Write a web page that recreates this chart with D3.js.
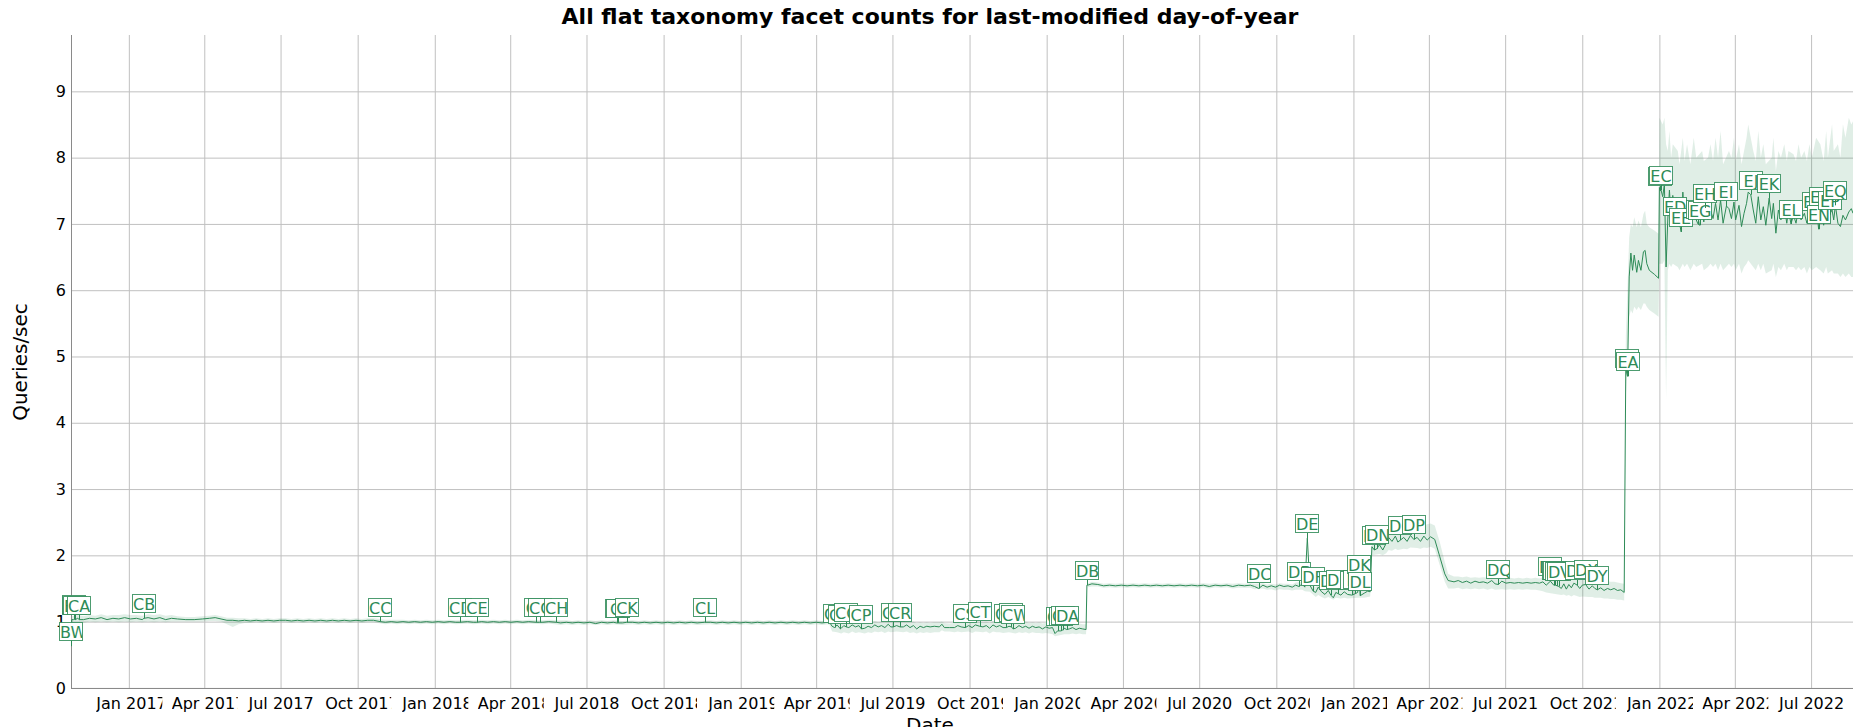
<!DOCTYPE html>
<html><head><meta charset="utf-8">
<script src="https://cdn.jsdelivr.net/npm/d3@7"></script>
<style>
html,body{margin:0;padding:0;background:#fff;overflow:hidden;}
svg{display:block;font-family:"DejaVu Sans",Verdana,sans-serif;}
</style></head><body>
<svg id="chart" width="1861" height="727"></svg>
<script>
// ---------------- DATA ----------------
const chartTitle = "All flat taxonomy facet counts for last-modified day-of-year";
const yTitle = "Queries/sec";
const xTitle = "Date";
const xDomain = ["2016-10-24", "2022-08-20"];
const yTicks = [0,1,2,3,4,5,6,7,8,9];
const xTickDates = ["2017-01-01","2017-04-01","2017-07-01","2017-10-01","2018-01-01","2018-04-01","2018-07-01","2018-10-01",
  "2019-01-01","2019-04-01","2019-07-01","2019-10-01","2020-01-01","2020-04-01","2020-07-01","2020-10-01",
  "2021-01-01","2021-04-01","2021-07-01","2021-10-01","2022-01-01","2022-04-01","2022-07-01"];

// rows: [date, queries/sec, band low, band high]
const launch2016 = [
["2016-10-25",1.03,0.98,1.08],["2016-11-01",1.05,0.99,1.10],["2016-11-08",1.03,0.98,1.08],["2016-11-15",1.05,1.00,1.10],
["2016-11-22",1.04,0.99,1.09],["2016-11-29",1.06,1.00,1.11],["2016-12-06",1.03,0.99,1.09],["2016-12-13",1.05,1.00,1.10],
["2016-12-20",1.04,0.99,1.10],["2016-12-27",1.06,1.00,1.11],["2017-01-03",1.04,0.99,1.10],["2017-01-10",1.05,1.00,1.10],
["2017-01-17",1.03,0.99,1.09],["2017-01-24",1.06,1.00,1.11],["2017-01-31",1.04,0.99,1.10],["2017-02-07",1.06,1.00,1.11],
["2017-02-14",1.03,0.99,1.09],["2017-02-21",1.05,1.00,1.10],["2017-02-28",1.04,1.00,1.08],["2017-03-10",1.03,1.00,1.07],
["2017-03-20",1.03,1.00,1.07],["2017-03-30",1.04,1.00,1.08],["2017-04-07",1.05,1.01,1.09],["2017-04-14",1.06,1.01,1.10],
["2017-04-21",1.04,1.00,1.08],["2017-04-28",1.02,0.96,1.06],["2017-05-05",1.02,0.92,1.06],["2017-05-12",1.01,0.96,1.05]
];
const flat2017to2019 = [
["2017-05-19",1.02,0.98,1.05],["2017-05-26",1.01,0.98,1.04],["2017-06-02",1.02,0.99,1.05],["2017-06-09",1.01,0.98,1.04],
["2017-06-16",1.02,0.99,1.05],["2017-06-23",1.01,0.98,1.04],["2017-06-30",1.02,0.99,1.05],["2017-07-07",1.02,0.99,1.05],
["2017-07-14",1.01,0.98,1.04],["2017-07-21",1.02,0.99,1.05],["2017-07-28",1.01,0.98,1.04],["2017-08-04",1.02,0.99,1.05],
["2017-08-11",1.01,0.98,1.04],["2017-08-18",1.02,0.99,1.05],["2017-08-25",1.01,0.98,1.04],["2017-09-01",1.02,0.99,1.05],
["2017-09-08",1.01,0.98,1.04],["2017-09-15",1.02,0.99,1.05],["2017-09-22",1.01,0.98,1.04],["2017-09-29",1.02,0.99,1.05],
["2017-10-06",1.01,0.98,1.04],["2017-10-13",1.02,0.99,1.05],["2017-10-20",1.02,0.99,1.05],["2017-11-03",0.99,0.96,1.03],
["2017-11-10",1.00,0.97,1.03],["2017-11-17",0.99,0.96,1.03],["2017-11-24",1.00,0.97,1.03],["2017-12-01",0.99,0.96,1.02],
["2017-12-08",1.00,0.97,1.03],["2017-12-15",0.99,0.96,1.02],["2017-12-22",1.00,0.97,1.03],["2017-12-29",0.99,0.96,1.02],
["2018-01-05",1.00,0.97,1.03],["2018-01-12",0.99,0.96,1.02],["2018-01-19",1.00,0.97,1.03],["2018-01-26",0.99,0.96,1.02],
["2018-02-09",1.00,0.97,1.03],["2018-02-16",0.99,0.96,1.02],["2018-02-26",1.00,0.97,1.03],["2018-03-05",0.99,0.96,1.02],
["2018-03-12",1.00,0.97,1.03],["2018-03-19",0.99,0.96,1.02],["2018-03-26",1.00,0.97,1.03],["2018-04-02",0.99,0.96,1.02],
["2018-04-09",1.00,0.97,1.03],["2018-04-16",0.99,0.96,1.02],["2018-04-23",1.00,0.97,1.03],["2018-05-10",0.99,0.96,1.02],
["2018-05-17",1.00,0.97,1.03],["2018-05-31",0.98,0.95,1.02],["2018-06-07",0.99,0.96,1.02],["2018-06-14",0.98,0.95,1.01],
["2018-06-21",0.99,0.96,1.02],["2018-06-28",0.98,0.95,1.01],["2018-07-05",0.99,0.96,1.02],["2018-07-12",0.97,0.95,1.01],
["2018-07-19",0.99,0.96,1.02],["2018-07-26",0.98,0.95,1.01],["2018-08-02",0.99,0.96,1.02],["2018-08-13",0.98,0.95,1.01],
["2018-08-25",0.99,0.96,1.02],["2018-09-01",0.98,0.95,1.01],["2018-09-08",0.99,0.96,1.02],["2018-09-15",0.98,0.95,1.01],
["2018-09-22",0.99,0.96,1.02],["2018-09-29",0.98,0.95,1.01],["2018-10-06",0.99,0.96,1.02],["2018-10-13",0.98,0.95,1.01],
["2018-10-20",0.99,0.96,1.02],["2018-10-27",0.98,0.95,1.01],["2018-11-03",0.99,0.96,1.02],["2018-11-10",0.98,0.95,1.01],
["2018-11-26",0.99,0.96,1.02],["2018-12-03",0.98,0.95,1.01],["2018-12-10",0.99,0.96,1.02],["2018-12-17",0.98,0.95,1.01],
["2018-12-24",0.99,0.96,1.02],["2018-12-31",0.98,0.95,1.01],["2019-01-07",0.99,0.96,1.02],["2019-01-14",0.98,0.95,1.01],
["2019-01-21",0.99,0.96,1.02],["2019-01-28",0.98,0.95,1.01],["2019-02-04",0.99,0.96,1.02],["2019-02-11",0.98,0.95,1.01],
["2019-02-18",0.99,0.96,1.02],["2019-02-25",0.98,0.95,1.01],["2019-03-04",0.99,0.96,1.02],["2019-03-11",0.98,0.95,1.01],
["2019-03-18",0.99,0.96,1.02],["2019-03-25",0.98,0.95,1.01],["2019-04-01",0.99,0.96,1.02],["2019-04-08",0.98,0.95,1.01],
["2019-04-15",0.99,0.96,1.02]
];
const dip2019 = [
["2019-04-17",0.99,0.95,1.02],["2019-04-20",0.93,0.85,0.99],["2019-04-26",0.95,0.84,1.00],["2019-05-01",0.90,0.82,0.99],
["2019-05-04",0.94,0.84,1.00],["2019-05-10",0.91,0.82,0.98],["2019-05-14",0.95,0.85,1.01],["2019-05-18",0.92,0.83,0.99],
["2019-05-22",0.94,0.84,1.00],["2019-05-29",0.90,0.82,0.98],["2019-06-02",0.93,0.84,1.00],["2019-06-06",0.91,0.83,0.99],
["2019-06-10",0.95,0.85,1.01],["2019-06-14",0.92,0.84,0.99],["2019-06-18",0.94,0.85,1.00],["2019-06-22",0.91,0.83,0.99],
["2019-06-26",0.96,0.85,1.01],["2019-06-29",0.92,0.84,0.99],["2019-07-06",0.94,0.85,1.00],["2019-07-14",0.92,0.84,0.99],
["2019-07-18",0.95,0.85,1.01],["2019-07-22",0.91,0.83,0.99],["2019-07-26",0.94,0.84,1.00],["2019-07-30",0.89,0.82,0.98],
["2019-08-03",0.93,0.84,0.99],["2019-08-07",0.91,0.83,0.98],["2019-08-11",0.93,0.84,0.99],["2019-08-15",0.92,0.83,0.98],
["2019-08-20",0.93,0.84,0.99],["2019-08-26",0.92,0.84,0.99],["2019-08-29",0.96,0.87,1.00],["2019-09-01",0.91,0.85,0.98],
["2019-09-07",0.91,0.85,0.97],["2019-09-13",0.91,0.84,0.98],["2019-09-17",0.94,0.85,1.00],["2019-09-21",0.92,0.84,0.99],
["2019-09-30",0.94,0.85,1.00],["2019-10-04",0.91,0.83,0.99],["2019-10-08",0.95,0.85,1.01],["2019-10-17",0.92,0.84,0.99],
["2019-10-21",0.94,0.85,1.00],["2019-10-25",0.90,0.82,0.98],["2019-10-29",0.95,0.85,1.01],["2019-11-02",0.92,0.84,0.99],
["2019-11-06",0.94,0.84,1.00],["2019-11-10",0.91,0.83,0.99],["2019-11-17",0.93,0.84,1.00],["2019-11-25",0.90,0.82,0.98],
["2019-11-29",0.94,0.84,1.00],["2019-12-03",0.91,0.83,0.99],["2019-12-07",0.93,0.84,1.00],["2019-12-11",0.90,0.82,0.98],
["2019-12-15",0.93,0.84,0.99],["2019-12-19",0.91,0.83,0.98],["2019-12-23",0.92,0.83,0.99],["2019-12-27",0.89,0.82,0.97],
["2019-12-31",0.92,0.83,0.98],["2020-01-04",0.90,0.82,0.97],["2020-01-08",0.91,0.81,0.98],["2020-01-11",0.82,0.78,0.95],
["2020-01-22",0.90,0.81,0.97],["2020-01-28",0.89,0.81,0.96],["2020-02-01",0.91,0.82,0.97],["2020-02-05",0.88,0.81,0.96],
["2020-02-09",0.90,0.82,0.97],["2020-02-13",0.89,0.81,0.96],["2020-02-17",0.88,0.81,0.96]
];
const plateau2020 = [
["2020-02-19",1.55,1.52,1.58],["2020-02-24",1.57,1.53,1.60],["2020-03-02",1.56,1.53,1.59],["2020-03-09",1.54,1.51,1.57],
["2020-03-16",1.55,1.52,1.58],["2020-03-23",1.54,1.51,1.57],["2020-03-30",1.55,1.52,1.58],["2020-04-06",1.54,1.51,1.57],
["2020-04-13",1.55,1.52,1.58],["2020-04-20",1.54,1.51,1.57],["2020-04-27",1.55,1.52,1.58],["2020-05-04",1.54,1.51,1.57],
["2020-05-11",1.55,1.52,1.58],["2020-05-18",1.54,1.51,1.57],["2020-05-25",1.55,1.52,1.58],["2020-06-01",1.54,1.51,1.57],
["2020-06-08",1.55,1.52,1.58],["2020-06-15",1.54,1.51,1.57],["2020-06-22",1.55,1.52,1.58],["2020-06-29",1.54,1.51,1.57],
["2020-07-06",1.55,1.52,1.58],["2020-07-13",1.53,1.50,1.57],["2020-07-20",1.55,1.52,1.58],["2020-07-27",1.54,1.51,1.57],
["2020-08-03",1.55,1.52,1.58],["2020-08-10",1.53,1.50,1.57],["2020-08-17",1.55,1.51,1.58],["2020-08-24",1.54,1.51,1.57],
["2020-08-31",1.55,1.51,1.58],["2020-09-05",1.53,1.49,1.57],["2020-09-15",1.55,1.50,1.58],["2020-09-20",1.52,1.48,1.56],
["2020-09-25",1.54,1.49,1.57],["2020-09-30",1.52,1.47,1.56],["2020-10-05",1.55,1.49,1.58],["2020-10-10",1.53,1.48,1.57],
["2020-10-15",1.54,1.48,1.57],["2020-10-20",1.52,1.47,1.56],["2020-10-24",1.55,1.48,1.59],["2020-11-01",1.57,1.48,1.60],
["2020-11-04",1.52,1.46,1.58],["2020-11-10",1.55,1.45,1.59],["2020-11-17",1.44,1.37,1.52],["2020-11-20",1.52,1.40,1.56],
["2020-11-24",1.45,1.37,1.53],["2020-11-28",1.41,1.35,1.50],["2020-12-02",1.47,1.37,1.52],["2020-12-08",1.36,1.33,1.49],
["2020-12-11",1.44,1.36,1.50],["2020-12-17",1.40,1.35,1.49],["2020-12-21",1.45,1.36,1.51],["2020-12-25",1.41,1.35,1.49],
["2021-01-06",1.44,1.36,1.50],["2021-01-14",1.43,1.36,1.50],["2021-01-18",1.46,1.37,1.51],["2021-01-21",1.45,1.38,1.52]
];
const rise2021 = [
["2021-01-23",2.13,2.00,2.20],["2021-02-01",2.16,2.02,2.24],["2021-02-05",2.08,2.00,2.22],["2021-02-09",2.18,2.03,2.26],
["2021-02-12",2.27,2.08,2.35],["2021-02-16",2.21,2.07,2.34],["2021-02-20",2.29,2.10,2.38],["2021-02-23",2.20,2.08,2.36],
["2021-03-02",2.27,2.10,2.38],["2021-03-06",2.21,2.09,2.37],["2021-03-10",2.30,2.12,2.40],["2021-03-18",2.27,2.11,2.42],
["2021-03-22",2.21,2.10,2.43],["2021-03-26",2.29,2.12,2.45],["2021-03-30",2.23,2.11,2.47],["2021-04-03",2.28,2.13,2.48],
["2021-04-08",2.24,2.10,2.45],["2021-04-14",1.98,1.85,2.20],["2021-04-20",1.72,1.60,1.90],["2021-04-24",1.62,1.50,1.72],
["2021-05-01",1.60,1.50,1.68],["2021-05-06",1.62,1.51,1.68],["2021-05-11",1.59,1.49,1.67],["2021-05-16",1.61,1.50,1.68],
["2021-05-21",1.58,1.49,1.66],["2021-05-26",1.61,1.50,1.67],["2021-05-31",1.59,1.49,1.66],["2021-06-05",1.60,1.50,1.67],
["2021-06-10",1.58,1.48,1.66],["2021-06-15",1.62,1.50,1.68],["2021-06-19",1.57,1.48,1.65],["2021-06-27",1.61,1.49,1.67],
["2021-07-02",1.58,1.48,1.66],["2021-07-07",1.59,1.49,1.66],["2021-07-12",1.58,1.48,1.65],["2021-07-17",1.59,1.49,1.66],
["2021-07-22",1.58,1.48,1.65],["2021-07-27",1.59,1.49,1.66],["2021-08-01",1.58,1.48,1.65],["2021-08-06",1.59,1.48,1.66],
["2021-08-11",1.58,1.47,1.65],["2021-08-15",1.60,1.46,1.67],["2021-08-19",1.55,1.44,1.66],["2021-09-06",1.50,1.40,1.64],
["2021-09-09",1.57,1.41,1.66],["2021-09-12",1.49,1.39,1.63],["2021-09-15",1.56,1.40,1.65],["2021-09-18",1.51,1.38,1.64],
["2021-09-21",1.58,1.40,1.66],["2021-09-28",1.50,1.37,1.64],["2021-10-01",1.55,1.38,1.65],["2021-10-09",1.49,1.37,1.63],
["2021-10-13",1.54,1.37,1.64],["2021-10-16",1.50,1.36,1.62],["2021-10-23",1.51,1.36,1.62],["2021-10-27",1.47,1.35,1.60],
["2021-10-31",1.50,1.35,1.61],["2021-11-04",1.48,1.34,1.60],["2021-11-08",1.50,1.34,1.60],["2021-11-12",1.47,1.33,1.59],
["2021-11-16",1.48,1.33,1.58],["2021-11-20",1.44,1.32,1.57]
];
const jump2022 = [
["2021-11-22",4.95,4.40,5.30],["2021-11-26",6.20,5.60,6.80],["2021-11-28",6.56,5.70,7.00],["2021-11-30",6.30,5.65,6.95],
["2021-12-02",6.53,5.75,7.10],["2021-12-05",6.27,5.70,6.95],["2021-12-07",6.45,5.75,7.05],["2021-12-10",6.30,5.70,6.95],
["2021-12-13",6.58,5.80,7.15],["2021-12-15",6.60,5.80,7.20],["2021-12-17",6.40,5.75,7.00],["2021-12-20",6.30,5.70,6.95],
["2021-12-26",6.24,5.65,6.90],["2021-12-31",6.18,5.60,6.85],["2022-01-01",7.55,6.40,8.60],["2022-01-05",7.41,6.40,8.50],
["2022-01-07",7.60,6.45,8.60],["2022-01-09",6.35,4.35,8.20],["2022-01-11",7.06,6.30,8.10],["2022-01-13",7.51,6.40,8.40],
["2022-01-15",7.11,6.35,8.00],["2022-01-17",7.43,6.40,8.20],["2022-01-23",7.31,6.35,8.10],["2022-01-25",7.01,6.30,7.90],
["2022-01-29",7.48,6.40,8.30],["2022-01-31",7.06,6.35,7.95],["2022-02-03",7.26,6.40,8.20],["2022-02-07",7.03,6.30,7.90],
["2022-02-11",7.26,6.40,8.30],["2022-02-14",7.06,6.35,8.00],["2022-02-21",7.21,6.40,8.10],["2022-02-23",7.03,6.30,7.95],
["2022-02-28",7.06,6.35,8.00],["2022-03-03",7.21,6.40,8.20],["2022-03-06",7.08,6.35,7.95],["2022-03-09",7.31,6.40,8.30],
["2022-03-12",7.06,6.30,8.00],["2022-03-15",7.36,6.40,8.40],["2022-03-18",7.01,6.30,7.90],["2022-03-25",7.23,6.40,8.10],
["2022-03-28",7.08,6.35,8.00],["2022-03-31",7.33,6.40,8.30],["2022-04-02",7.06,6.30,7.95],["2022-04-06",7.28,6.40,8.20],
["2022-04-09",6.96,6.25,7.90],["2022-04-12",7.16,6.35,8.10],["2022-04-15",7.31,6.40,8.30],["2022-04-17",7.48,6.45,8.50],
["2022-04-23",7.21,6.35,8.10],["2022-04-26",7.01,6.30,7.95],["2022-04-29",7.41,6.40,8.40],["2022-05-02",7.06,6.30,8.00],
["2022-05-05",7.26,6.40,8.20],["2022-05-08",6.98,6.25,7.90],["2022-05-15",7.08,6.30,8.00],["2022-05-17",7.31,6.40,8.30],
["2022-05-20",6.86,6.20,7.80],["2022-05-23",7.21,6.35,8.10],["2022-05-26",7.06,6.30,8.00],["2022-05-30",7.26,6.40,8.20],
["2022-06-02",7.01,6.30,7.95],["2022-06-04",7.21,6.35,8.10],["2022-06-10",7.13,6.35,8.05],["2022-06-13",7.01,6.30,7.95],
["2022-06-16",7.23,6.35,8.20],["2022-06-19",7.06,6.30,8.00],["2022-06-23",7.16,6.35,8.10],["2022-06-26",7.01,6.25,7.95],
["2022-06-29",7.21,6.35,8.20],["2022-07-02",7.06,6.30,8.00],["2022-07-07",7.31,6.35,8.30],["2022-07-12",7.18,6.30,8.20],
["2022-07-16",6.98,6.25,7.95],["2022-07-19",7.26,6.35,8.40],["2022-07-21",7.03,6.25,8.00],["2022-07-26",7.21,6.30,8.50],
["2022-07-28",7.06,6.25,8.10],["2022-08-02",7.01,6.25,8.20],["2022-08-05",6.96,6.20,8.00],["2022-08-08",7.13,6.25,8.50],
["2022-08-11",7.06,6.20,8.30],["2022-08-15",7.18,6.25,8.60],["2022-08-18",7.23,6.20,8.50],["2022-08-20",7.16,6.20,8.55]
];

// annotations (labels, dates, values at the annotated point)
const annLabels = ["BW","BX","BY","BZ","CA","CB","CC","CD","CE","CF","CG","CH","CI","CJ","CK","CL",
  "CM","CN","CO","CP","CQ","CR","CS","CT","CU","CV","CW","CX","CY","CZ","DA","DB",
  "DC","DD","DE","DF","DG","DH","DI","DJ","DK","DL","DM","DN","DO","DP","DQ",
  "DR","DS","DT","DU","DV","DW","DX","DY","DZ","EA",
  "EB","EC","ED","EE","EF","EG","EH","EI","EJ","EK","EL","EM","EN","EO","EP","EQ"];
const annDates = ["2016-10-24","2016-10-27","2016-10-28","2016-10-29","2016-11-03","2017-01-19","2017-10-28","2018-01-31",
  "2018-02-20","2018-05-02","2018-05-06","2018-05-26","2018-08-06","2018-08-08","2018-08-18","2018-11-19",
  "2019-04-23","2019-04-30","2019-05-07","2019-05-25","2019-07-02","2019-07-10","2019-09-26","2019-10-13",
  "2019-11-14","2019-11-20","2019-11-22","2020-01-14","2020-01-18","2020-01-20","2020-01-25","2020-02-18",
  "2020-09-10","2020-10-28","2020-11-07","2020-11-14","2020-12-05","2020-12-14","2020-12-30","2021-01-03",
  "2021-01-08","2021-01-09","2021-01-26","2021-01-29","2021-02-26","2021-03-14","2021-06-23",
  "2021-08-24","2021-08-28","2021-08-30","2021-09-01","2021-09-03","2021-09-25","2021-10-05","2021-10-19",
  "2021-11-23","2021-11-24",
  "2022-01-02","2022-01-03","2022-01-20","2022-01-27","2022-02-16","2022-02-18","2022-02-25","2022-03-22",
  "2022-04-20","2022-05-12","2022-06-07","2022-07-05","2022-07-10","2022-07-13","2022-07-23","2022-07-30"];
const annValues = [0.63,1.03,1.04,1.03,1.03,1.05,1.00,0.99,0.99,0.99,0.99,0.99,0.98,0.98,0.99,0.99,
  0.91,0.89,0.92,0.89,0.92,0.92,0.91,0.93,0.91,0.92,0.89,0.86,0.86,0.87,0.88,1.55,
  1.50,1.53,2.26,1.46,1.40,1.42,1.40,1.42,1.64,1.39,2.08,2.10,2.23,2.24,1.56,
  1.61,1.55,1.55,1.54,1.53,1.55,1.56,1.48,4.75,4.70,
  7.50,7.51,7.05,6.88,7.00,6.98,7.24,7.27,7.44,7.39,7.00,7.12,6.92,7.19,7.14,7.28];

// ---------------- DRAWING ----------------
const W = 1861, H = 727;
const plotLeft = 71, plotRight = 1853, plotTop = 35, plotBottom = 688;
const seriesColor = "#2e8b57";
const gridColor = "#c0c0c0";
const parse = d3.timeParse("%Y-%m-%d");
const fmt = d3.timeFormat("%b %Y");

const svg = d3.select("#chart");
const defs = svg.append("defs");
defs.append("clipPath").attr("id","plotclip").append("rect")
  .attr("x",plotLeft).attr("y",plotTop).attr("width",plotRight-plotLeft).attr("height",plotBottom-plotTop);
defs.append("clipPath").attr("id","xlabclip").attr("clipPathUnits","userSpaceOnUse").append("rect")
  .attr("x",-33).attr("y",0).attr("width",66).attr("height",32);

const x = d3.scaleTime().domain(xDomain.map(parse)).range([plotLeft, plotRight]);
const y = d3.scaleLinear().domain([0, 9.85]).range([687.9, plotTop]);

const base = [launch2016, flat2017to2019, dip2019, plateau2020, rise2021, jump2022].flat()
  .map(r => ({date: parse(r[0]), v: r[1], lo: r[2], hi: r[3]}));
const ann = annLabels.map((l,i) => ({label: l, date: parse(annDates[i]), v: annValues[i]}));
const linePts = base.map(d => ({date: d.date, v: d.v}))
  .concat(ann.map(a => ({date: a.date, v: a.v})))
  .sort((a,b) => a.date - b.date);

// grid + axes
const gx = svg.append("g").attr("transform", `translate(0,${plotBottom})`)
  .call(d3.axisBottom(x).tickValues(xTickDates.map(parse)).tickFormat(fmt)
    .tickSize(-(plotBottom-plotTop)).tickPadding(0));
gx.attr("font-family", '"DejaVu Sans",Verdana,sans-serif').attr("font-size", 16);
gx.select(".domain").remove();
gx.selectAll(".tick line").attr("stroke", gridColor).attr("stroke-width", 1);
gx.selectAll(".tick text").attr("y", 21).attr("dy", null).attr("fill", "#000")
  .each(function(){
    const w = this.getComputedTextLength();
    if (w > 66) {
      d3.select(this).attr("text-anchor","start").attr("x",-33).attr("clip-path","url(#xlabclip)");
    }
  });

const gy = svg.append("g").attr("transform", `translate(${plotLeft},0)`)
  .call(d3.axisLeft(y).tickValues(yTicks).tickFormat(d3.format("d"))
    .tickSize(-(plotRight-plotLeft)).tickPadding(5));
gy.attr("font-family", '"DejaVu Sans",Verdana,sans-serif').attr("font-size", 16);
gy.select(".domain").remove();
gy.selectAll(".tick line").attr("stroke", gridColor).attr("stroke-width", 1);
gy.selectAll(".tick text").attr("fill", "#000");

// axis lines
svg.append("line").attr("x1", plotLeft+0.5).attr("x2", plotLeft+0.5).attr("y1", plotTop).attr("y2", plotBottom+0.5)
  .attr("stroke", "#8a8a8a").attr("stroke-width", 1);
svg.append("line").attr("x1", plotLeft).attr("x2", plotRight).attr("y1", plotBottom+0.5).attr("y2", plotBottom+0.5)
  .attr("stroke", "#8a8a8a").attr("stroke-width", 1);

// band + line
const plot = svg.append("g").attr("clip-path", "url(#plotclip)");
plot.append("path").datum(base)
  .attr("d", d3.area().x(d => x(d.date)).y0(d => y(d.lo)).y1(d => y(d.hi)))
  .attr("fill", seriesColor).attr("fill-opacity", 0.15);
plot.append("path").datum(linePts)
  .attr("d", d3.line().x(d => x(d.date)).y(d => y(d.v)))
  .attr("fill", "none").attr("stroke", seriesColor).attr("stroke-width", 1);

// titles
svg.append("text").attr("x", 930).attr("y", 24).attr("text-anchor", "middle")
  .attr("font-size", 22).attr("font-weight", "bold").attr("fill", "#000").text(chartTitle);
svg.append("text").attr("transform", "translate(20,362) rotate(-90)").attr("text-anchor", "middle")
  .attr("dy", "0.35em").attr("font-size", 20).attr("fill", "#000").text(yTitle);
svg.append("text").attr("x", 930).attr("y", 732).attr("text-anchor", "middle")
  .attr("font-size", 20).attr("fill", "#000").text(xTitle);

// annotations
const boxW = 24, boxH = 19, gap = 5;
const ga = svg.append("g");
ann.forEach((a, i) => {
  const px = Math.round(x(a.date)), py = y(a.v);
  const top = Math.round(py - gap - boxH), left = px - 12;
  ga.append("line").attr("x1", px+0.5).attr("x2", px+0.5).attr("y1", py).attr("y2", top+boxH)
    .attr("stroke", seriesColor).attr("stroke-width", 1);
  const g = ga.append("g");
  g.append("rect").attr("x", left+0.5).attr("y", top+0.5).attr("width", boxW-1).attr("height", boxH-1)
    .attr("fill", "#fff").attr("stroke", seriesColor).attr("stroke-opacity", 0.85).attr("stroke-width", 1);
  const cid = "ac" + i;
  defs.append("clipPath").attr("id", cid).append("rect")
    .attr("x", left+1).attr("y", top+1).attr("width", boxW-2).attr("height", boxH-2);
  const t = g.append("text").attr("x", px).attr("y", top + 15.5).attr("text-anchor", "middle")
    .attr("font-size", 16).attr("fill", seriesColor).attr("clip-path", `url(#${cid})`).text(a.label);
  const w = t.node().getComputedTextLength();
  if (w > boxW - 2) t.attr("text-anchor", "start").attr("x", left + 1);
});
</script>
</body></html>
